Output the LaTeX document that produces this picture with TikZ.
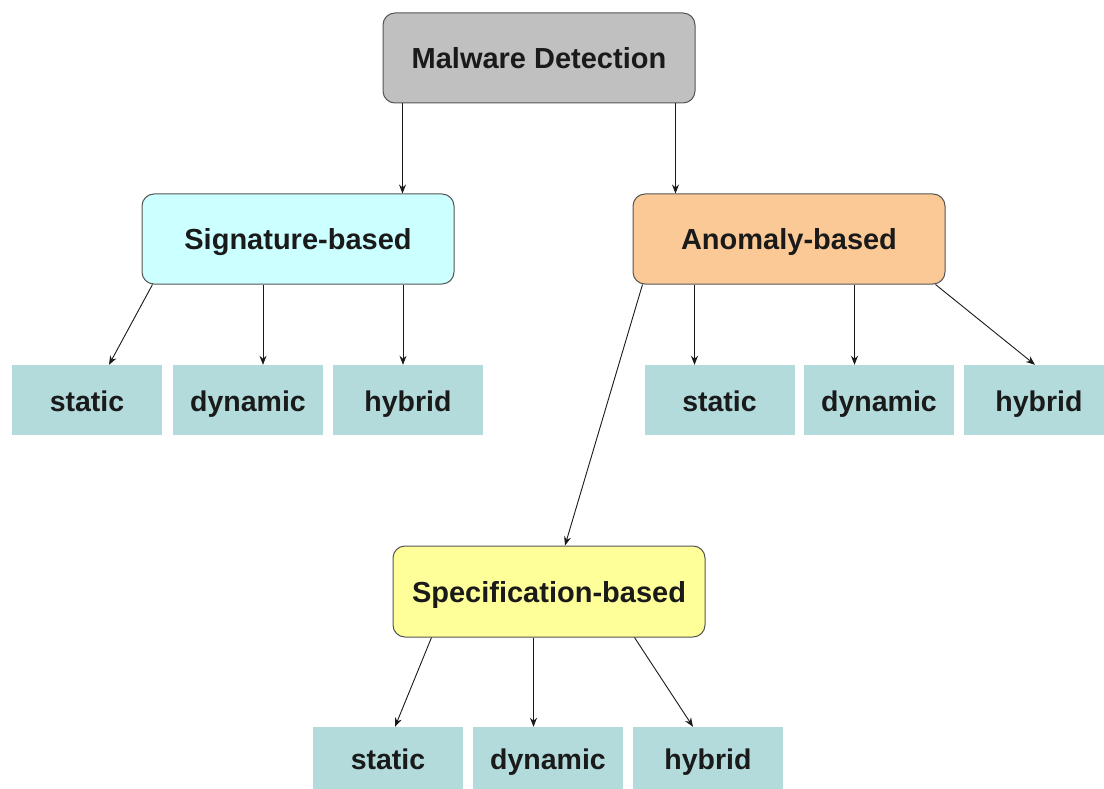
\documentclass[tikz,border=0pt]{standalone}
\usepackage{fontspec}
\setmainfont{Liberation Sans}
\usetikzlibrary{arrows.meta,calc}
\definecolor{graybox}{HTML}{C0C0C0}
\definecolor{cyanbox}{HTML}{CCFFFF}
\definecolor{peachbox}{HTML}{FBC995}
\definecolor{yellowbox}{HTML}{FFFF99}
\definecolor{leafbox}{HTML}{B3DBDC}
\definecolor{edgegray}{HTML}{555555}
\definecolor{txt}{HTML}{1A1A1A}
\tikzset{
  catbox/.style={draw=edgegray, line width=1pt, rounded corners=12pt,
    minimum width=312pt, minimum height=90pt, inner sep=0pt,
    text height=24pt, text depth=2pt,
    font=\fontsize{29}{34}\selectfont\bfseries, text=txt},
  leaf/.style={fill=leafbox, draw=none, minimum width=150pt, minimum height=70pt,
    inner sep=0pt, text height=24pt, text depth=2pt,
    font=\fontsize{28.5}{34}\selectfont\bfseries, text=txt},
  arr/.style={draw=txt, line width=0.9pt, -{Stealth[length=9pt,width=7pt]}}
}
\begin{document}
\begin{tikzpicture}[x=1pt,y=-1pt]
\useasboundingbox[fill=white] (0,0) rectangle (1104,789);
% category boxes
\node[catbox, fill=graybox] (md) at (539,58) {Malware Detection};
\node[catbox, fill=cyanbox] (sig) at (298,239) {Signature-based};
\node[catbox, fill=peachbox] (ano) at (789,239) {Anomaly-based};
\node[catbox, fill=yellowbox, minimum height=91pt] (spec) at (549,591.5) {Specification-based};
% leaves
\node[leaf] (sst) at (87,400) {static};
\node[leaf] (sdy) at (248,400) {dynamic};
\node[leaf] (shy) at (408,400) {hybrid};
\node[leaf] (ast) at (719.5,400) {static};
\node[leaf] (ady) at (879,400) {dynamic};
\node[leaf] (ahy) at (1039,400) {hybrid};
\node[leaf, minimum height=62pt] (pst) at (388,758) {static};
\node[leaf, minimum height=62pt] (pdy) at (548,758) {dynamic};
\node[leaf, minimum height=62pt] (phy) at (708,758) {hybrid};
% connector start points
\coordinate (m1) at ($(md.south west)+(20,0)$);
\coordinate (m2) at ($(md.south east)+(-20,0)$);
\coordinate (s2) at ($(sig.south)+(-35,0)$);
\coordinate (s3) at ($(sig.south)+(105,0)$);
\coordinate (a1) at ($(ano.south west)+(62,0)$);
\coordinate (a2) at ($(ano.south west)+(222,0)$);
\coordinate (p2) at ($(spec.south west)+(141,0)$);
% connectors
\draw[arr] (m1) -- (m1 |- sig.north);
\draw[arr] (m2) -- (m2 |- ano.north);
\draw[arr] ($(sig.south west)+(11,0)$) -- ($(sst.north)+(22,0)$);
\draw[arr] (s2) -- (s2 |- sdy.north);
\draw[arr] (s3) -- (s3 |- shy.north);
\draw[arr] (a1) -- (a1 |- ast.north);
\draw[arr] (a2) -- (a2 |- ady.north);
\draw[arr] ($(ano.south east)+(-10,0)$) -- ($(ahy.north)+(-4,0)$);
\draw[arr] ($(ano.south west)+(10,0)$) -- ($(spec.north)+(16,0)$);
\draw[arr] ($(spec.south west)+(39,0)$) -- ($(pst.north)+(7,0)$);
\draw[arr] (p2) -- (p2 |- pdy.north);
\draw[arr] ($(spec.south west)+(242,0)$) -- ($(phy.north)+(-15,0)$);
\end{tikzpicture}
\end{document}
